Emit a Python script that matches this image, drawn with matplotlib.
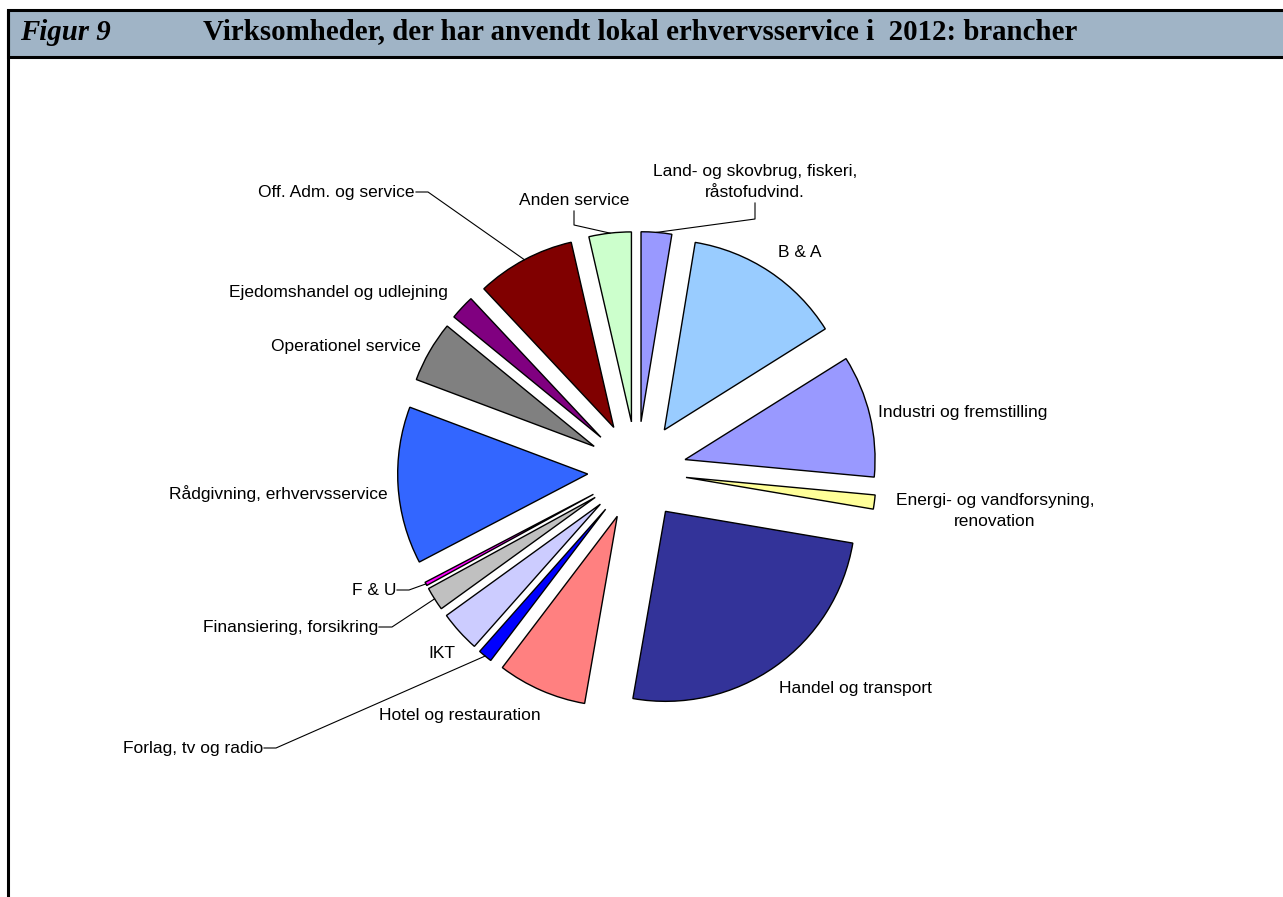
import math
import matplotlib
matplotlib.use("Agg")
import matplotlib.pyplot as plt
from matplotlib.patches import Rectangle

W, H = 1283, 897

# slice shares (percent), clockwise from 12 o'clock
labels = ['Land- og skovbrug, fiskeri,\nråstofudvind.', 'B & A', 'Industri og fremstilling',
          'Energi- og vandforsyning,\nrenovation', 'Handel og transport', 'Hotel og restauration',
          'Forlag, tv og radio', 'IKT', 'Finansiering, forsikring', 'F & U',
          'Rådgivning, erhvervsservice', 'Operationel service', 'Ejedomshandel og udlejning',
          'Off. Adm. og service', 'Anden service']
values = [2.6, 13.5, 10.4, 1.2, 25.1, 7.6, 1.2, 3.5, 2.0, 0.3, 13.4, 5.2, 2.1, 8.4, 3.6]
colors = ['#9999FF', '#99CCFF', '#9999FF', '#FFFF99', '#333399', '#FF8080', '#0000FF', '#CCCCFF',
          '#C0C0C0', '#FF00FF', '#3366FF', '#808080', '#800080', '#800000', '#CCFFCC']

# label layout in pixels (x, y from top), alignment, optional leader elbow
label_pos = {
    0: ((755, 182), 'center', (755, 219)),
    1: ((800, 252), 'center', None),
    2: ((878, 412), 'left', None),
    3: ((995, 511), 'center', None),
    4: ((855, 688), 'center', None),
    5: ((460, 715), 'center', None),
    6: ((263, 748), 'right', (276, 748)),
    7: ((442, 653), 'center', None),
    8: ((378, 627), 'right', (392, 627)),
    9: ((396, 590), 'right', (409, 590)),
    10: ((278, 494), 'center', None),
    11: ((346, 346), 'center', None),
    12: ((338, 292), 'center', None),
    13: ((415, 192), 'right', (428, 192)),
    14: ((574, 200), 'center', (574, 225)),
}
leader_start = {0: (755, 203), 14: (574, 211)}

cx, cy, R = 637, 471, 190
expl = 0.26 * R

plt.rcParams['font.family'] = ['Liberation Sans', 'DejaVu Sans']
fig = plt.figure(figsize=(W / 100, H / 100), dpi=100)
ax = fig.add_axes([0, 0, 1, 1])

wedges, _ = ax.pie(values, colors=colors, startangle=90, counterclock=False,
                   center=(cx, H - cy), radius=R, explode=[expl] * len(values),
                   wedgeprops=dict(edgecolor='black', linewidth=1.0), frame=True)
ax.set_xlim(0, W)
ax.set_ylim(0, H)
ax.set_aspect('auto')
ax.axis('off')

for i, w in enumerate(wedges):
    (tx, ty), ha, elbow = label_pos[i]
    ax.text(tx, H - ty, labels[i], ha=ha, va='center', fontsize=12.5, linespacing=1.55,
            multialignment='center')
    if elbow is not None:
        th = math.radians((w.theta1 + w.theta2) / 2)
        px = w.center[0] + w.r * math.cos(th)
        py = w.center[1] + w.r * math.sin(th)
        if i in leader_start:
            sx, sy = leader_start[i]
        else:
            sx, sy = tx + 1, ty
        ax.plot([sx, elbow[0], px], [H - sy, H - elbow[1], py], color='black', lw=0.8)

# header bar and frame
ax.add_patch(Rectangle((8, H - 57), W, 47, facecolor='#A0B4C6', edgecolor='black',
                       linewidth=2.2, clip_on=False))
ax.plot([8, 8], [0, H - 10], color='black', lw=2.2, solid_capstyle='butt')
ax.text(20, H - 32, 'Figur 9', fontsize=20.8, fontweight='bold', fontstyle='italic',
        family='Liberation Serif', va='center', ha='left')
ax.text(203, H - 32, 'Virksomheder, der har anvendt lokal erhvervsservice i  2012: brancher',
        fontsize=20.8, fontweight='bold', family='Liberation Serif', va='center', ha='left')

fig.savefig('out.png', dpi=100)
